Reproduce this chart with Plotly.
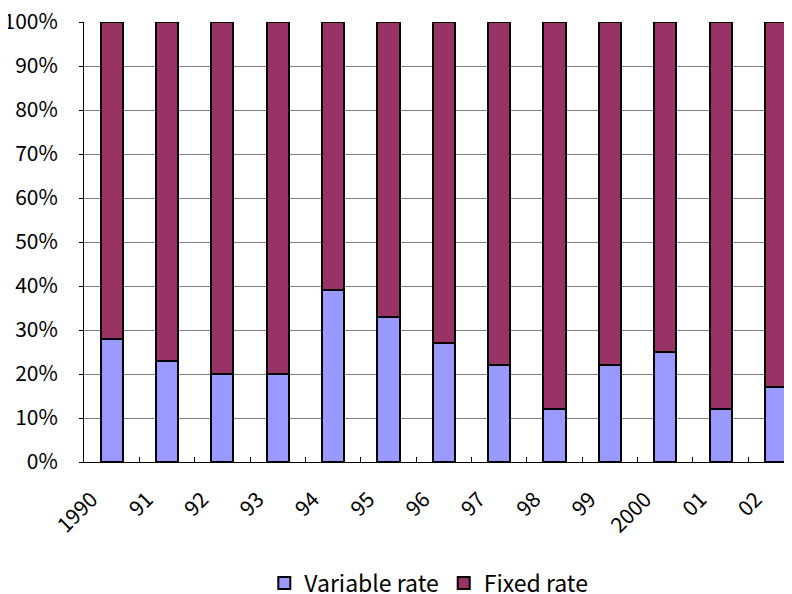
import plotly.graph_objects as go

years = ["1990", "91", "92", "93", "94", "95", "96", "97", "98", "99", "2000", "01", "02"]
variable_rate = [28, 23, 20, 20, 39, 33, 27, 22, 12, 22, 25, 12, 17]
fixed_rate = [100 - v for v in variable_rate]

FONT = "Noto Sans CJK JP"

fig = go.Figure()
fig.add_trace(go.Bar(
    x=years, y=variable_rate, name="Variable rate",
    marker=dict(color="#9999FF", line=dict(color="black", width=2)),
))
fig.add_trace(go.Bar(
    x=years, y=fixed_rate, name="Fixed rate",
    marker=dict(color="#993366", line=dict(color="black", width=2)),
))

# page body has an 8px margin, so the figure is shrunk and margins compensated
fig.update_layout(
    barmode="stack",
    bargap=0.6,
    width=784, height=586,
    margin=dict(l=76, r=0, t=14, b=132, autoexpand=False),
    paper_bgcolor="white", plot_bgcolor="white",
    font=dict(family=FONT, size=21, color="black"),
    legend=dict(
        orientation="h", x=0.487, xanchor="center", y=-0.275, yanchor="middle",
        font=dict(family=FONT, size=23, color="black"), traceorder="normal",
        itemwidth=30,
    ),
)
fig.update_xaxes(
    type="category", range=[-0.5, 12.29], automargin=False,
    tickangle=-45, showline=True, linecolor="black", linewidth=1,
    ticks="inside", tickson="boundaries", ticklen=5, tickcolor="black",
    showgrid=False, tickfont=dict(family=FONT, size=21),
    ticklabelshift=-20, ticklabelstandoff=16, ticklabeloverflow="allow",
)
fig.update_yaxes(
    range=[0, 100], dtick=10, ticksuffix="%", automargin=False,
    showline=True, linecolor="black", linewidth=1,
    ticks="outside", ticklen=4, tickcolor="black",
    showgrid=True, gridcolor="#808080", gridwidth=1,
    tickfont=dict(family=FONT, size=21), ticklabelstandoff=17,
    ticklabeloverflow="allow",
)

fig.write_html("out.html")
